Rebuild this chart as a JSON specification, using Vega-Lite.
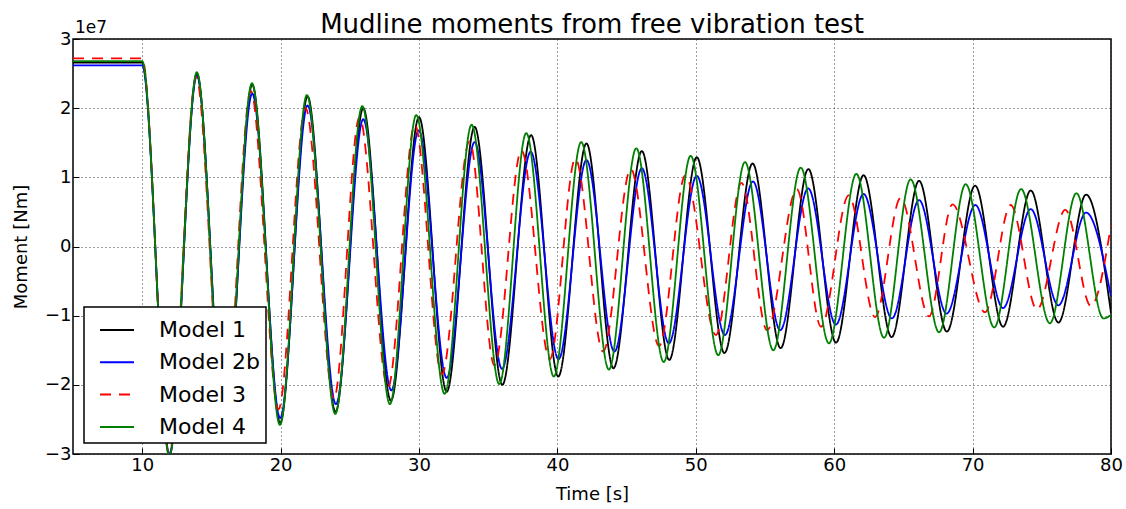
{
  "$schema": "https://vega.github.io/schema/vega-lite/v6.json",
  "autosize": "none",
  "width": 1038,
  "height": 415,
  "padding": {"left": 73, "top": 39, "right": 15, "bottom": 55},
  "background": "white",
  "title": {"text": "Mudline moments from free vibration test", "fontSize": 26, "font": "DejaVu Sans", "fontWeight": "normal", "color": "black", "offset": 0, "dy": 19, "anchor": "middle"},
  "config": {
    "view": {"stroke": "black", "strokeWidth": 1.5},
    "font": "DejaVu Sans",
    "axis": {
      "grid": true, "gridColor": "#222", "gridDash": [1, 3], "gridWidth": 1, "gridOpacity": 0.9,
      "domain": false, "tickColor": "black", "tickSize": -6, "tickWidth": 1, "labelFlush": false,
      "labelFont": "DejaVu Sans", "labelFontSize": 18, "labelColor": "black",
      "titleFont": "DejaVu Sans", "titleFontSize": 18, "titleFontWeight": "normal", "titleColor": "black"
    },
    "legend": {
      "orient": "bottom-left", "offset": 11, "fillColor": "white", "strokeColor": "black", "strokeWidth": 1.5,
      "padding": 5, "rowPadding": 3.3, "labelFont": "DejaVu Sans", "labelFontSize": 22, "labelColor": "black",
      "symbolType": "stroke", "symbolSize": 1156, "symbolStrokeWidth": 2, "symbolOffset": 10, "labelOffset": 24, "title": null
    }
  },
  "datasets": {
    "series": [
      {"t": 5, "m": 2.66e7, "model": "Model 1"},
      {"t": 10, "m": 2.66e7, "model": "Model 1"},
      {"t": 11.97, "m": -3.02e7, "model": "Model 1"},
      {"t": 13.95, "m": 2.50e7, "model": "Model 1"},
      {"t": 15.95, "m": -2.75e7, "model": "Model 1"},
      {"t": 17.95, "m": 2.34e7, "model": "Model 1"},
      {"t": 19.97, "m": -2.55e7, "model": "Model 1"},
      {"t": 21.95, "m": 2.17e7, "model": "Model 1"},
      {"t": 23.97, "m": -2.39e7, "model": "Model 1"},
      {"t": 25.97, "m": 2.00e7, "model": "Model 1"},
      {"t": 27.97, "m": -2.23e7, "model": "Model 1"},
      {"t": 30.0, "m": 1.87e7, "model": "Model 1"},
      {"t": 32.0, "m": -2.10e7, "model": "Model 1"},
      {"t": 34.02, "m": 1.73e7, "model": "Model 1"},
      {"t": 36.02, "m": -2.00e7, "model": "Model 1"},
      {"t": 38.1, "m": 1.61e7, "model": "Model 1"},
      {"t": 40.06, "m": -1.88e7, "model": "Model 1"},
      {"t": 42.1, "m": 1.49e7, "model": "Model 1"},
      {"t": 44.05, "m": -1.76e7, "model": "Model 1"},
      {"t": 46.1, "m": 1.38e7, "model": "Model 1"},
      {"t": 48.08, "m": -1.64e7, "model": "Model 1"},
      {"t": 50.07, "m": 1.29e7, "model": "Model 1"},
      {"t": 52.07, "m": -1.54e7, "model": "Model 1"},
      {"t": 54.1, "m": 1.20e7, "model": "Model 1"},
      {"t": 56.13, "m": -1.47e7, "model": "Model 1"},
      {"t": 58.13, "m": 1.12e7, "model": "Model 1"},
      {"t": 60.13, "m": -1.39e7, "model": "Model 1"},
      {"t": 62.12, "m": 1.03e7, "model": "Model 1"},
      {"t": 64.15, "m": -1.31e7, "model": "Model 1"},
      {"t": 66.13, "m": 0.95e7, "model": "Model 1"},
      {"t": 68.14, "m": -1.23e7, "model": "Model 1"},
      {"t": 70.18, "m": 0.88e7, "model": "Model 1"},
      {"t": 72.2, "m": -1.16e7, "model": "Model 1"},
      {"t": 74.2, "m": 0.81e7, "model": "Model 1"},
      {"t": 76.2, "m": -1.10e7, "model": "Model 1"},
      {"t": 78.2, "m": 0.75e7, "model": "Model 1"},
      {"t": 80, "m": -0.96e7, "model": "Model 1"},

      {"t": 5, "m": 2.62e7, "model": "Model 2b"},
      {"t": 10, "m": 2.62e7, "model": "Model 2b"},
      {"t": 11.97, "m": -3.0e7, "model": "Model 2b"},
      {"t": 13.95, "m": 2.47e7, "model": "Model 2b"},
      {"t": 15.95, "m": -2.7e7, "model": "Model 2b"},
      {"t": 17.95, "m": 2.21e7, "model": "Model 2b"},
      {"t": 19.97, "m": -2.48e7, "model": "Model 2b"},
      {"t": 21.95, "m": 2.04e7, "model": "Model 2b"},
      {"t": 24.0, "m": -2.28e7, "model": "Model 2b"},
      {"t": 25.97, "m": 1.84e7, "model": "Model 2b"},
      {"t": 28.0, "m": -2.08e7, "model": "Model 2b"},
      {"t": 29.98, "m": 1.68e7, "model": "Model 2b"},
      {"t": 32.0, "m": -1.90e7, "model": "Model 2b"},
      {"t": 34.02, "m": 1.51e7, "model": "Model 2b"},
      {"t": 36.0, "m": -1.77e7, "model": "Model 2b"},
      {"t": 38.07, "m": 1.37e7, "model": "Model 2b"},
      {"t": 40.08, "m": -1.63e7, "model": "Model 2b"},
      {"t": 42.1, "m": 1.25e7, "model": "Model 2b"},
      {"t": 44.12, "m": -1.52e7, "model": "Model 2b"},
      {"t": 46.1, "m": 1.13e7, "model": "Model 2b"},
      {"t": 48.05, "m": -1.40e7, "model": "Model 2b"},
      {"t": 50.07, "m": 1.02e7, "model": "Model 2b"},
      {"t": 52.1, "m": -1.28e7, "model": "Model 2b"},
      {"t": 54.13, "m": 0.94e7, "model": "Model 2b"},
      {"t": 56.1, "m": -1.21e7, "model": "Model 2b"},
      {"t": 58.12, "m": 0.84e7, "model": "Model 2b"},
      {"t": 60.12, "m": -1.13e7, "model": "Model 2b"},
      {"t": 62.12, "m": 0.76e7, "model": "Model 2b"},
      {"t": 64.17, "m": -1.04e7, "model": "Model 2b"},
      {"t": 66.13, "m": 0.67e7, "model": "Model 2b"},
      {"t": 68.12, "m": -0.97e7, "model": "Model 2b"},
      {"t": 70.2, "m": 0.60e7, "model": "Model 2b"},
      {"t": 72.2, "m": -0.89e7, "model": "Model 2b"},
      {"t": 74.2, "m": 0.54e7, "model": "Model 2b"},
      {"t": 76.2, "m": -0.85e7, "model": "Model 2b"},
      {"t": 78.2, "m": 0.49e7, "model": "Model 2b"},
      {"t": 80, "m": -0.72e7, "model": "Model 2b"},

      {"t": 5, "m": 2.72e7, "model": "Model 3"},
      {"t": 10, "m": 2.72e7, "model": "Model 3"},
      {"t": 11.95, "m": -3.0e7, "model": "Model 3"},
      {"t": 13.9, "m": 2.45e7, "model": "Model 3"},
      {"t": 15.9, "m": -2.7e7, "model": "Model 3"},
      {"t": 17.85, "m": 2.25e7, "model": "Model 3"},
      {"t": 19.85, "m": -2.35e7, "model": "Model 3"},
      {"t": 21.8, "m": 2.0e7, "model": "Model 3"},
      {"t": 23.85, "m": -2.2e7, "model": "Model 3"},
      {"t": 25.7, "m": 1.87e7, "model": "Model 3"},
      {"t": 27.75, "m": -2.04e7, "model": "Model 3"},
      {"t": 29.7, "m": 1.76e7, "model": "Model 3"},
      {"t": 31.65, "m": -1.85e7, "model": "Model 3"},
      {"t": 33.65, "m": 1.52e7, "model": "Model 3"},
      {"t": 35.45, "m": -1.72e7, "model": "Model 3"},
      {"t": 37.4, "m": 1.39e7, "model": "Model 3"},
      {"t": 39.45, "m": -1.63e7, "model": "Model 3"},
      {"t": 41.3, "m": 1.27e7, "model": "Model 3"},
      {"t": 43.3, "m": -1.52e7, "model": "Model 3"},
      {"t": 45.3, "m": 1.12e7, "model": "Model 3"},
      {"t": 47.35, "m": -1.44e7, "model": "Model 3"},
      {"t": 49.25, "m": 1.03e7, "model": "Model 3"},
      {"t": 51.45, "m": -1.28e7, "model": "Model 3"},
      {"t": 53.3, "m": 0.92e7, "model": "Model 3"},
      {"t": 55.15, "m": -1.21e7, "model": "Model 3"},
      {"t": 57.3, "m": 0.83e7, "model": "Model 3"},
      {"t": 59.05, "m": -1.16e7, "model": "Model 3"},
      {"t": 61.05, "m": 0.74e7, "model": "Model 3"},
      {"t": 62.95, "m": -1.02e7, "model": "Model 3"},
      {"t": 64.8, "m": 0.70e7, "model": "Model 3"},
      {"t": 66.85, "m": -1.01e7, "model": "Model 3"},
      {"t": 68.55, "m": 0.61e7, "model": "Model 3"},
      {"t": 70.9, "m": -0.95e7, "model": "Model 3"},
      {"t": 72.75, "m": 0.60e7, "model": "Model 3"},
      {"t": 74.65, "m": -0.91e7, "model": "Model 3"},
      {"t": 76.7, "m": 0.53e7, "model": "Model 3"},
      {"t": 78.55, "m": -0.86e7, "model": "Model 3"},
      {"t": 80, "m": 0.31e7, "model": "Model 3"},

      {"t": 5, "m": 2.68e7, "model": "Model 4"},
      {"t": 10, "m": 2.68e7, "model": "Model 4"},
      {"t": 11.96, "m": -3.03e7, "model": "Model 4"},
      {"t": 13.95, "m": 2.52e7, "model": "Model 4"},
      {"t": 15.93, "m": -2.78e7, "model": "Model 4"},
      {"t": 17.93, "m": 2.36e7, "model": "Model 4"},
      {"t": 19.95, "m": -2.58e7, "model": "Model 4"},
      {"t": 21.9, "m": 2.19e7, "model": "Model 4"},
      {"t": 23.95, "m": -2.42e7, "model": "Model 4"},
      {"t": 25.9, "m": 2.03e7, "model": "Model 4"},
      {"t": 27.9, "m": -2.28e7, "model": "Model 4"},
      {"t": 29.8, "m": 1.90e7, "model": "Model 4"},
      {"t": 31.85, "m": -2.13e7, "model": "Model 4"},
      {"t": 33.8, "m": 1.76e7, "model": "Model 4"},
      {"t": 35.8, "m": -1.99e7, "model": "Model 4"},
      {"t": 37.75, "m": 1.64e7, "model": "Model 4"},
      {"t": 39.74, "m": -1.88e7, "model": "Model 4"},
      {"t": 41.72, "m": 1.51e7, "model": "Model 4"},
      {"t": 43.72, "m": -1.78e7, "model": "Model 4"},
      {"t": 45.7, "m": 1.42e7, "model": "Model 4"},
      {"t": 47.68, "m": -1.67e7, "model": "Model 4"},
      {"t": 49.63, "m": 1.31e7, "model": "Model 4"},
      {"t": 51.62, "m": -1.57e7, "model": "Model 4"},
      {"t": 53.55, "m": 1.22e7, "model": "Model 4"},
      {"t": 55.6, "m": -1.50e7, "model": "Model 4"},
      {"t": 57.58, "m": 1.14e7, "model": "Model 4"},
      {"t": 59.62, "m": -1.40e7, "model": "Model 4"},
      {"t": 61.6, "m": 1.05e7, "model": "Model 4"},
      {"t": 63.6, "m": -1.32e7, "model": "Model 4"},
      {"t": 65.52, "m": 0.97e7, "model": "Model 4"},
      {"t": 67.58, "m": -1.24e7, "model": "Model 4"},
      {"t": 69.5, "m": 0.90e7, "model": "Model 4"},
      {"t": 71.56, "m": -1.17e7, "model": "Model 4"},
      {"t": 73.5, "m": 0.83e7, "model": "Model 4"},
      {"t": 75.58, "m": -1.11e7, "model": "Model 4"},
      {"t": 77.5, "m": 0.77e7, "model": "Model 4"},
      {"t": 79.45, "m": -1.04e7, "model": "Model 4"},
      {"t": 80, "m": -0.99e7, "model": "Model 4"}
    ],
    "label": [{"t": 5, "m": 3e7, "text": "1e7"}]
  },
  "layer": [
    {
      "data": {"name": "series"},
      "mark": {"type": "line", "interpolate": "monotone", "strokeWidth": 1.8, "clip": true},
      "encoding": {
        "x": {"field": "t", "type": "quantitative", "title": "Time [s]",
              "scale": {"domain": [5, 80], "nice": false, "zero": false},
              "axis": {"values": [10, 20, 30, 40, 50, 60, 70, 80], "labelPadding": 8, "titlePadding": 11}},
        "y": {"field": "m", "type": "quantitative", "title": "Moment [Nm]",
              "scale": {"domain": [-3e7, 3e7], "nice": false},
              "axis": {"values": [-3e7, -2e7, -1e7, 0, 1e7, 2e7, 3e7], "labelExpr": "format(datum.value / 1e7, 'd')", "labelPadding": 8, "titlePadding": 14}},
        "color": {"field": "model", "type": "nominal",
                  "scale": {"domain": ["Model 1", "Model 2b", "Model 3", "Model 4"], "range": ["#000000", "#0000ff", "#ff0000", "#008000"]}},
        "strokeDash": {"field": "model", "type": "nominal",
                  "scale": {"domain": ["Model 1", "Model 2b", "Model 3", "Model 4"], "range": [[1, 0], [1, 0], [11, 8], [1, 0]]}}
      }
    },
    {
      "data": {"name": "label"},
      "mark": {"type": "text", "align": "left", "baseline": "alphabetic", "dx": 2, "dy": -6, "fontSize": 17, "font": "DejaVu Sans", "color": "black"},
      "encoding": {
        "x": {"field": "t", "type": "quantitative"},
        "y": {"field": "m", "type": "quantitative"},
        "text": {"field": "text"}
      }
    }
  ]
}
